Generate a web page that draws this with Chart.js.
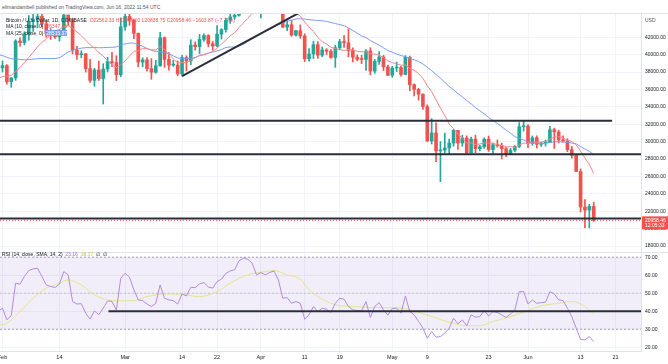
<!DOCTYPE html>
<html>
<head>
<meta charset="utf-8">
<script src="https://cdn.jsdelivr.net/npm/chart.js@4.4.1/dist/chart.umd.min.js"></script>
<style>
    body { margin: 0; background: #fff; font-family: "Liberation Sans", Arial, sans-serif; }
    #wrap { position: relative; width: 668px; height: 364px; overflow: hidden; background: #fff; }
    #price { position: absolute; left: 0; top: 14px; }
    #rsi { position: absolute; left: 0; top: 252px; }
    .sep { position: absolute; left: 0; width: 668px; height: 1px; background: #e0e3eb; }
    .txt { position: absolute; font-size: 5px; line-height: 7px; color: #131722; white-space: nowrap; z-index: 2; }
    .red { color: #ef5350; }
</style>
</head>
<body>
<div id="wrap">
    <div class="txt" style="left:2px;top:4px;color:#50535e;">elimandambell published on TradingView.com, Jun 16, 2022 11:54 UTC</div>
    <div class="sep" style="top:13px;"></div>
    <canvas id="price" width="668" height="238"></canvas>
    <div class="sep" style="top:252px;"></div>
    <canvas id="rsi" width="668" height="112"></canvas>

    <div class="txt" style="left:6px;top:16.5px;">Bitcoin / U.S. Dollar, 1D, COINBASE <span class="red">&nbsp;O22562.33 H22995.00 L20838.75 C20958.46 −1603.87 (−7.11%)</span></div>
    <div class="txt" style="left:6px;top:23px;">MA (10, close, 0) <span class="red">&nbsp;26347.26</span></div>
    <div class="txt" style="left:6px;top:30px;">MA (25, close, 0) <span style="color:#fff;background:#7b9cf0;">&nbsp;28515.37</span></div>
    <div class="txt" style="left:645px;top:17px;color:#50535e;">USD</div>
    <div class="txt" style="left:2px;top:251px;">RSI (14, close, SMA, 14, 2) <span style="color:#9c6fd8;">&nbsp;23.16</span> <span style="color:#c3cc3e;">&nbsp;38.37</span> &nbsp;∅ &nbsp;∅</div>
</div>
<script>
// daily candles, index 0 = 2022-01-31, index 136 = 2022-06-16 (day number = index - 1, day 0 = Feb 1)
const open = [
    37920, 38480, 38740, 36900, 37330, 41570, 41400, 42400, 43850, 44050, 44400, 43550, 42400, 42200, 42050, 42550,
    44550, 43900, 40550, 40000, 40100, 38400, 37050, 38250, 37250, 38350, 39200, 39100, 37700,
    43200, 44400, 43950, 42450, 39150, 39400, 38400, 37990, 38730, 41950, 39450, 38800, 38800, 37790, 39670, 39280,
    41110, 40920, 41760, 42200, 41260, 41000, 42360, 42890, 43960, 44340, 44530, 46820, 47130, 47450, 47060,
    45530, 46300, 45810, 46400, 46620, 45500, 43170, 43440, 42250, 42760, 42160, 39530, 40080, 41150, 39940,
    40550, 40390, 39680, 40800, 41500, 41370, 40480, 39710, 39470, 39450, 40430, 38110, 39240, 39740, 38600,
    37640, 38470, 38520, 37730, 39690, 36550, 36010, 35470, 34040, 30080, 31010, 28940, 29030, 29280, 29840,
    31300, 29850, 30430, 28700, 30300, 29200, 29430, 30290, 29100, 29650, 29540, 29200, 28630, 29030, 29470, 31720,
    31790, 29800, 30450, 29700, 29860, 29900, 31370, 31130, 30200, 30100, 29090, 28420, 26580, 22490, 22140, 22562.33
];
const high = [
    38740, 39270, 38850, 37390, 41730, 41940, 42650, 44500, 45490, 44800, 45850, 43900, 43000, 42750, 42870, 44750,
    44570, 44190, 40960, 40460, 40150, 39470, 38440, 39280, 38960, 39700, 40280, 39880, 44230,
    44950, 45400, 44100, 42500, 39650, 39660, 39550, 39350, 42570, 42050, 40250, 39340, 39300, 39940, 39870, 41720,
    41480, 42330, 42400, 42300, 41540, 43350, 42990, 44200, 45080, 44800, 46930, 48190, 48100, 47700, 47600,
    46720, 47200, 47440, 46880, 47200, 45500, 43900, 43970, 42790, 43420, 42400, 40690, 41560, 41500, 40870,
    40700, 40600, 41100, 41760, 42200, 42980, 40800, 39980, 39930, 40600, 40800, 39470, 40370, 39920, 38800,
    38660, 39160, 38650, 39900, 39840, 36660, 36130, 35500, 34240, 32650, 32170, 30030, 30980, 30300, 31400,
    31310, 30750, 30680, 30520, 30750, 29600, 30450, 30650, 29830, 30200, 29840, 29360, 29240, 29540, 32200, 32400,
    31980, 30670, 30680, 29940, 30170, 31760, 31560, 31330, 30680, 30340, 29450, 28540, 26880, 23350, 22800, 23050
];
const low = [
    36630, 38010, 36620, 36250, 37050, 40980, 41130, 41650, 42680, 43120, 43220, 42010, 41750, 41870, 41570, 42440,
    43330, 40090, 39470, 39640, 38000, 36800, 36370, 37050, 34330, 38020, 38620, 37020, 37460,
    42830, 43380, 41850, 38600, 38600, 38100, 37170, 37870, 38660, 38540, 38230, 38660, 37580, 37560, 38130, 38850,
    40510, 40140, 41530, 40930, 40510, 40890, 41800, 42580, 43600, 44080, 44420, 46660, 46950, 46570, 45200,
    44220, 45640, 45540, 45120, 45370, 43120, 42750, 42120, 42130, 41870, 39200, 39250, 39560, 39570, 39770,
    40010, 39560, 38540, 40580, 40840, 39750, 39180, 39300, 38980, 38200, 37700, 37860, 38870, 38180, 37580,
    37400, 38060, 37520, 37690, 35850, 35270, 34780, 33720, 30030, 29740, 27700, 25400, 28700, 28620, 29480,
    29100, 29470, 28650, 28680, 28740, 28950, 29240, 28880, 28660, 29360, 28020, 28270, 28560, 28820, 29320, 31220,
    29310, 29590, 29280, 29470, 29500, 29880, 29220, 29850, 29970, 28860, 28100, 26560, 21930, 20110, 20080, 20838.75
];
const close = [
    38480, 38740, 36900, 37330, 41570, 41400, 42400, 43850, 44050, 44400, 43550, 42400, 42200, 42050, 42550, 44550,
    43900, 40550, 40000, 40100, 38400, 37050, 38250, 37250, 38350, 39200, 39100, 37700, 43200,
    44400, 43950, 42450, 39150, 39400, 38400, 37990, 38730, 41950, 39450, 38800, 38800, 37790, 39670, 39280, 41110,
    40920, 41760, 42200, 41260, 41000, 42360, 42890, 43960, 44340, 44530, 46820, 47130, 47450, 47060, 45530,
    46300, 45810, 46400, 46620, 45500, 43170, 43440, 42250, 42760, 42160, 39530, 40080, 41150, 39940, 40550,
    40390, 39680, 40800, 41500, 41370, 40480, 39710, 39470, 39450, 40430, 38110, 39240, 39740, 38600, 37640,
    38470, 38520, 37730, 39690, 36550, 36010, 35470, 34040, 30080, 31010, 28940, 29030, 29280, 29840, 31300,
    29850, 30430, 28700, 30300, 29200, 29430, 30290, 29100, 29650, 29540, 29200, 28630, 29030, 29470, 31720, 31790,
    29800, 30450, 29700, 29860, 29900, 31370, 31130, 30200, 30100, 29090, 28420, 26580, 22490, 22140, 22562.33, 20958.46
];
const ma10 = [
    37262, 37489, 37551, 37618, 38080, 38539, 39063, 39676, 40264, 40912, 41419, 41785, 42315, 42787, 42885, 43200,
    43350, 43020, 42615, 42185, 41670, 41135, 40740, 40260, 39840, 39305, 38825, 38540, 38860,
    39290, 39845, 40385, 40475, 40690, 40695, 40574, 40537, 40962, 40587, 40027, 39512, 39046, 39098, 39086, 39357,
    39650, 39953, 39978, 40159, 40379, 40735, 41245, 41674, 42180, 42522, 43112, 43649, 44174, 44754, 45207,
    45601, 45893, 46137, 46365, 46462, 46097, 45728, 45208, 44778, 44441, 43764, 43191, 42666, 41998, 41503,
    41225, 40849, 40704, 40578, 40499, 40594, 40557, 40389, 40340, 40328, 40100, 40056, 39950, 39660, 39287,
    39086, 38967, 38793, 38817, 38429, 38219, 37842, 37272, 36420, 35757, 34804, 33855, 33010, 32025, 31500,
    30884, 30380, 29846, 29868, 29687, 29736, 29862, 29844, 29825, 29649, 29584, 29404, 29437, 29354, 29606, 29842,
    29793, 29928, 29933, 29965, 30035, 30309, 30519, 30593, 30431, 30161, 30023, 29636, 28908, 28136, 27402, 26347
];
const ma25 = [
    40014, 39902, 39708, 39526, 39516, 39462, 39402, 39452, 39490, 39539, 39556, 39562, 39555, 39570, 39644, 39967,
    40320, 40490, 40624, 40750, 40814, 40809, 40830, 40794, 40811, 40840, 40854, 40886, 41121,
    41234, 41336, 41338, 41150, 40964, 40724, 40502, 40355, 40345, 40241, 40091, 39861, 39616, 39581, 39552, 39593,
    39694, 39882, 40040, 40200, 40306, 40433, 40584, 40835, 40880, 40886, 41000, 41188, 41520, 41826, 42111,
    42444, 42727, 42905, 43192, 43460, 43634, 43860, 43964, 44103, 44145, 44089, 44022, 43980, 43927, 43909,
    43830, 43702, 43576, 43462, 43336, 43082, 42785, 42466, 42162, 41958, 41630, 41367, 41101, 40780, 40466,
    40278, 40081, 39900, 39777, 39553, 39412, 39228, 38943, 38549, 38167, 37709, 37283, 36822, 36356, 35953,
    35528, 35157, 34726, 34360, 33911, 33564, 33206, 32780, 32422, 32098, 31727, 31332, 30984, 30575, 30382, 30213,
    29986, 29842, 29827, 29781, 29820, 29913, 29987, 30002, 29954, 29923, 29843, 29758, 29446, 29163, 28888, 28515
];
const rsi = [
    40.0, 41.7, 35.2, 37.6, 55.6, 55.0, 59.3, 62.6, 63.5, 63.9, 59.3, 54.6, 53.7, 53.2, 55.0, 62.0,
    60.2, 45.4, 44.0, 44.2, 38.9, 35.6, 40.2, 38.0, 41.7, 45.7, 45.4, 40.7, 58.3,
    61.1, 58.9, 51.9, 46.3, 45.9, 44.0, 42.6, 44.4, 54.6, 47.2, 46.3, 45.9, 44.0, 49.6, 48.5, 53.3,
    53.1, 55.2, 55.9, 53.5, 52.8, 56.5, 57.8, 61.0, 62.4, 63.0, 68.0, 69.4, 68.9, 66.7, 60.2,
    61.5, 60.2, 61.5, 62.4, 57.4, 47.2, 47.6, 44.4, 45.4, 44.4, 35.6, 38.0, 42.6, 39.8, 41.7,
    41.1, 39.3, 44.4, 47.2, 46.7, 42.6, 40.7, 40.4, 40.2, 45.4, 36.5, 42.6, 44.8, 40.7, 37.8,
    41.5, 41.7, 38.9, 48.5, 39.8, 38.0, 34.3, 30.6, 25.0, 28.7, 25.6, 25.9, 27.8, 30.6, 36.1,
    33.0, 35.2, 31.9, 38.0, 36.7, 37.0, 40.4, 37.4, 39.8, 39.3, 38.0, 36.5, 38.5, 40.7, 50.9, 50.9,
    44.0, 46.3, 44.4, 44.8, 45.0, 50.9, 49.6, 46.3, 45.9, 41.7, 37.0, 30.6, 24.4, 24.1, 25.9, 23.16
];
// RSI smoothing line, read at a few days
const rsiSmaDays = [-1, 0, 4, 7, 10, 13, 15, 18, 21, 24, 26, 30, 33, 37, 41, 45, 49, 52, 56, 60, 62, 65, 68,
    70, 72, 75, 77, 80, 83, 88, 91, 94, 98, 102, 106, 109, 112, 116, 120, 123, 127, 130, 133, 135];
const rsiSmaVals = [32.3, 32.4, 39.8, 47.2, 52.8, 55.6, 57.4, 54.6, 49.1, 46.3, 45.7, 45.9, 48.1, 49.6, 49.4, 48.1, 50.9, 55.6, 60.2, 62.0, 62.6, 60.2, 57.8,
    51.9, 48.1, 44.4, 43.0, 42.6, 42.2, 42.0, 41.7, 40.2, 37.0, 33.9, 31.9, 31.9, 34.3, 37.0, 40.4, 43.0, 44.4, 45.4, 42.6, 38.37];

// drawn levels (day, price)
const resistance = [[-1, 32400], [139.2, 32400]];
const support = [[-1, 28560], [146, 28560]];
const bottom = [[-1, 21160], [146, 21160]];
const trend = [[41, 37550], [67.5, 44750]];
const rsiLine = [[24.2, 40], [146, 40]];

const tickDays = [0, 13, 28, 41, 49, 59, 69, 77, 89, 97, 111, 120, 132, 140];
const tickText = ['Feb', '14', 'Mar', '14', '22', 'Apr', '11', '19', 'May', '9', '23', 'Jun', '13', '21'];
const priceTicks = [18000, 20000, 22000, 24000, 26000, 28000, 30000, 32000, 34000, 36000, 38000, 40000, 42000];
const rsiTicks = [20, 30, 40, 50, 60, 70];

const X_MIN = -0.57, X_MAX = 145.8;
const GREEN = '#26a69a', RED = '#ef5350', DRAW = '#2a2e39', GRID = '#f0f3fa';
const FONT = '"Liberation Sans", Arial, sans-serif';

const days = close.map((c, i) => i - 1);
const candleColor = close.map((c, i) => c >= open[i] ? GREEN : RED);
const lastClose = close[close.length - 1];
const pts = arr => arr.map(p => ({ x: p[0], y: p[1] }));

function drawnLine(data, order) {
    return { type: 'line', data: pts(data), borderColor: DRAW, borderWidth: 2, pointRadius: 0, order };
}

// no extra room around the plot for half labels
function noPadding(s) {
    s.paddingTop = 0; s.paddingBottom = 0; s.paddingLeft = 0; s.paddingRight = 0;
}

function xScale(showLabels) {
    return {
        type: 'linear', min: X_MIN, max: X_MAX, offset: false,
        afterBuildTicks: s => { s.ticks = tickDays.map(v => ({ value: v })); },
        ticks: {
            display: showLabels, autoSkip: false, maxRotation: 0, padding: 3,
            font: { size: 5.5, family: FONT }, color: '#131722',
            callback: v => tickText[tickDays.indexOf(v)]
        },
        grid: { color: GRID, drawTicks: false, offset: false },
        border: { display: showLabels, color: '#e0e3eb' },
        afterFit: s => { s.height = showLabels ? 13 : 0; noPadding(s); }
    };
}

function yScale(min, max, ticks) {
    return {
        position: 'right', min, max,
        afterBuildTicks: s => { s.ticks = ticks.map(v => ({ value: v })); },
        ticks: { font: { size: 5, family: FONT }, color: '#131722', padding: 4, callback: v => v.toFixed(2) },
        grid: { color: GRID, drawTicks: false },
        border: { color: '#e0e3eb' },
        afterFit: s => { s.width = 27; noPadding(s); }
    };
}

// red box with last price on the price axis
const lastPriceLabel = {
    id: 'lastPriceLabel',
    afterDraw(chart) {
        const { ctx, chartArea } = chart;
        const y = chart.scales.y.getPixelForValue(lastClose);
        ctx.save();
        ctx.fillStyle = RED;
        ctx.fillRect(chartArea.right + 1, y - 4, 26, 13);
        ctx.fillStyle = '#fff';
        ctx.font = '5px ' + FONT;
        ctx.textBaseline = 'middle';
        ctx.fillText(lastClose.toFixed(2), chartArea.right + 4, y);
        ctx.fillText('12:05:33', chartArea.right + 4, y + 5.5);
        ctx.restore();
    }
};

const common = {
    responsive: false, animation: false, devicePixelRatio: 1,
    layout: { padding: 0, autoPadding: false },
    plugins: { legend: { display: false }, tooltip: { enabled: false } }
};

new Chart(document.getElementById('price'), {
    type: 'bar',
    data: {
        datasets: [
            {
                type: 'line', data: [{ x: X_MIN, y: lastClose }, { x: X_MAX, y: lastClose }],
                borderColor: RED, borderWidth: 1, borderDash: [1, 2], pointRadius: 0, order: 0
            },
            drawnLine(resistance, 0),
            drawnLine(support, 0),
            drawnLine(bottom, 0),
            drawnLine(trend, 0),
            {
                type: 'line', data: days.map((d, i) => ({ x: d, y: ma10[i] })),
                borderColor: '#f4868a', borderWidth: 1, pointRadius: 0, order: 1
            },
            {
                type: 'line', data: days.map((d, i) => ({ x: d, y: ma25[i] })),
                borderColor: '#7b9cf0', borderWidth: 1, pointRadius: 0, order: 1
            },
            {
                data: days.map((d, i) => ({ x: d, y: [open[i], close[i]] })),
                backgroundColor: candleColor, barThickness: 3, minBarLength: 1, grouped: false, order: 2
            },
            {
                data: days.map((d, i) => ({ x: d, y: [low[i], high[i]] })),
                backgroundColor: candleColor, barThickness: 1, grouped: false, order: 3
            }
        ]
    },
    options: {
        ...common,
        scales: { x: xScale(false), y: yScale(17322, 44678, priceTicks) }
    },
    plugins: [lastPriceLabel]
});

new Chart(document.getElementById('rsi'), {
    type: 'line',
    data: {
        datasets: [
            drawnLine(rsiLine, 0),
            {
                data: days.map((d, i) => ({ x: d, y: rsi[i] })),
                borderColor: '#b08be0', borderWidth: 1, pointRadius: 0, order: 1
            },
            {
                data: rsiSmaDays.map((d, i) => ({ x: d, y: rsiSmaVals[i] })),
                borderColor: '#e2e58c', borderWidth: 1, pointRadius: 0, cubicInterpolationMode: 'monotone', order: 2
            },
            {
                data: [{ x: X_MIN, y: 50 }, { x: X_MAX, y: 50 }],
                borderColor: '#c2bfd0', borderWidth: 1, borderDash: [2, 2], pointRadius: 0, order: 3
            },
            {
                data: [{ x: X_MIN, y: 70 }, { x: X_MAX, y: 70 }],
                borderColor: '#a4a0b4', borderWidth: 1, borderDash: [2, 2], pointRadius: 0,
                fill: '+1', backgroundColor: 'rgba(126, 87, 194, 0.1)', order: 4
            },
            {
                data: [{ x: X_MIN, y: 30 }, { x: X_MAX, y: 30 }],
                borderColor: '#a4a0b4', borderWidth: 1, borderDash: [2, 2], pointRadius: 0, order: 5
            }
        ]
    },
    options: {
        ...common,
        scales: { x: xScale(true), y: yScale(17.9, 72.9, rsiTicks) }
    }
});
</script>
</body>
</html>
